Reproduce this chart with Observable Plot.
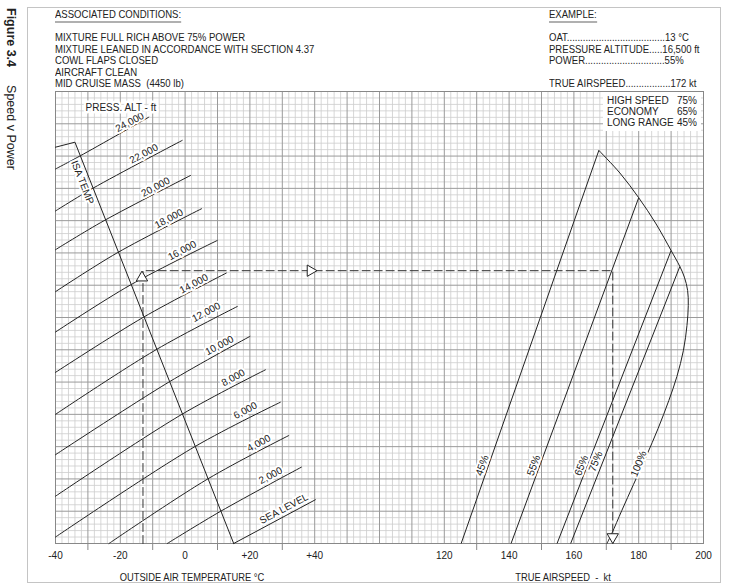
<!DOCTYPE html>
<html><head><meta charset="utf-8">
<script src="https://cdn.jsdelivr.net/npm/d3@7"></script>
<script src="https://cdn.jsdelivr.net/npm/@observablehq/plot@0.6"></script>
<style>
html,body{margin:0;padding:0;background:#fff;}
#wrap{position:relative;width:729px;height:586px;overflow:hidden;font-family:"Liberation Sans",Arial,sans-serif;color:#222;}
#border{position:absolute;left:27px;top:7px;width:692px;height:574px;border:1.5px solid #c4c4c4;}
.hd{position:absolute;font-family:"Liberation Sans",Arial,sans-serif;font-size:11.5px;line-height:12px;white-space:pre;color:#222;transform-origin:0 0;transform:scaleX(0.83);}
.ul{border-bottom:2px solid #b0b0b0;padding-bottom:1px;}
.ax{position:absolute;font-family:"Liberation Sans",Arial,sans-serif;font-size:11px;line-height:12px;white-space:pre;color:#222;transform:translateX(-50%) scaleX(0.85);}
#fig{position:absolute;left:0;top:8px;transform-origin:0 0;transform:translateX(18px) rotate(90deg);white-space:nowrap;font-size:12.5px;line-height:14px;color:#222;}
#legend{position:absolute;left:603px;top:92px;width:90px;padding:3px 4px 3px 4px;background:#fff;font-size:10px;line-height:11px;white-space:nowrap;}
#legend .row{display:flex;justify-content:space-between;}
#chart{position:absolute;left:0;top:0;}
</style></head>
<body><div id="wrap">
<div id="border"></div>
<div id="fig"><b>Figure 3.4</b><span style="margin-left:18px">Speed v Power</span></div>
<div id="chart"></div>
<div id="legend"></div>
</div>
<script>
// ---------- text content ----------
const conditionsTitle = "ASSOCIATED CONDITIONS:";
const conditions = ["MIXTURE FULL RICH ABOVE 75% POWER", "MIXTURE LEANED IN ACCORDANCE WITH SECTION 4.37", "COWL FLAPS CLOSED", "AIRCRAFT CLEAN", "MID CRUISE MASS  (4450 lb)"];
const exampleTitle = "EXAMPLE:";
const exampleRows = ["OAT.....................................13 °C", "PRESSURE ALTITUDE.....16,500 ft", "POWER..............................55%", "", "TRUE AIRSPEED.................172 kt"];
const legendNames = ["HIGH SPEED", "ECONOMY", "LONG RANGE"];
const legendPct = ["75%", "65%", "45%"];

// ---------- axes ----------
const TAS_OFFSET = 40; // grid position = TAS - 40 (shared grid with temperature)
const tempTicks = [-40, -20, 0, 20, 40];
const tempTickLabels = ["-40", "-20", "0", "+20", "+40"];
const tasTicks = [120, 140, 160, 180, 200];
const tasTickLabels = ["120", "140", "160", "180", "200"];
const tempTickMarks = [-30, -10, 10, 30];
const tasTickMarks = [130, 150, 170, 190];
const axisTitles = ["OUTSIDE AIR TEMPERATURE °C", "TRUE AIRSPEED  -  kt"];
const axisTitlePos = [2.3, 116.8];

// ---------- pressure altitude lines (left panel), y = density level in 1000 ft ----------
const altLabels = ["24,000", "22,000", "20,000", "18,000", "16,000", "14,000", "12,000", "10,000", "8,000", "6,000", "4,000", "2,000", "SEA LEVEL"];
const altStartT = [-40, -40, -40, -40, -40, -40, -40, -40, -40, -40, -23.5, -5.5, 15];
const altStartV = [23.2, 20.6, 18.2, 15.6, 13.1, 10.6, 8.0, 5.5, 2.93, 0.4, 0, 0, 0];
const altIsaT = [-32.5, -28.5, -25, -21, -17, -13, -9, -5, -1, 3, 7, 11, 15];
const altIsaV = [24, 22, 20, 18, 16, 14, 12, 10, 8, 6, 4, 2, 0];
const altEndT = [-11.2, -0.9, 1.7, 5.1, 9.9, 12.7, 16.1, 20.0, 24.8, 29.4, 32.0, 35.9, 40.2];
const altEndV = [26.41, 24.97, 22.80, 20.74, 18.77, 16.75, 14.68, 12.83, 10.76, 8.75, 6.69, 4.73, 2.71];
const altLabelT = [-17.1, -12.75, -9.1, -5.0, -0.9, 2.7, 6.5, 10.6, 14.85, 18.6, 22.75, 26.4, 30.5];
const altLabelV = [26.10, 24.14, 22.08, 20.12, 18.15, 16.09, 14.33, 12.27, 10.27, 8.24, 6.21, 4.21, 2.15];

// ISA temperature line
const isaLineT = [-40, -34.0, 15];
const isaLineV = [24.55, 24.86, 0];

// ---------- power lines (right panel) ----------
const powerNames = ["45%", "55%", "65%", "75%"];
const powerTopTAS = [167.7, 180.0, 190.0, 192.7];
const powerTopV = [24.35, 21.42, 18.15, 17.16];
const powerBottomTAS = [125.2, 140.6, 154.8, 159.0];
const maxPowerTAS = [167.7, 174.2, 180.0, 185.2, 190.0, 192.7, 194.1, 195.1, 195.3, 194.9, 193.8, 191.8, 189.3, 186.0, 182.3, 178.4, 174.8, 171.7, 170.2];
const maxPowerV = [24.35, 22.95, 21.42, 19.85, 18.15, 17.16, 16.5, 15.68, 14.75, 13.51, 11.96, 10.35, 8.86, 7.13, 5.39, 3.66, 2.05, 0.62, 0];
const pctLabels = ["45%", "55%", "65%", "75%", "100%"];
const pctLabelTAS = [131.7, 147.6, 162.3, 166.7, 180.0];
const pctLabelV = [4.83, 4.83, 4.83, 5.08, 4.94];
const pctLabelAngle = [-70.7, -69.7, -68.7, -68.4, -68.0];

// ---------- worked example ----------
const exampleOAT = -13;
const exampleLevel = 16.9;
const exampleTAS = 172;
const arrowMidT = 38.7;

// ================= build =================
const wrap = document.getElementById("wrap");
function addText(text, left, top, cls) {
  const d = document.createElement("div");
  d.className = cls || "hd";
  d.style.left = left + "px"; d.style.top = top + "px";
  d.textContent = text;
  wrap.appendChild(d);
  return d;
}
addText(conditionsTitle, 55, 8, "hd ul");
addText(exampleTitle, 549, 8, "hd ul");
conditions.forEach((t, i) => addText(t, 55, 31 + i * 11.6));
exampleRows.forEach((t, i) => { if (t) addText(t, 549, 31 + i * 11.6); });
const lg = document.getElementById("legend");
legendNames.forEach((n, i) => {
  const r = document.createElement("div"); r.className = "row";
  r.innerHTML = `<span>${n}</span><span>${legendPct[i]}</span>`;
  lg.appendChild(r);
});

// data tables
const altPts = [];
altLabels.forEach((lab, i) => {
  const pts = [[altStartT[i], altStartV[i]], [altIsaT[i], altIsaV[i]], [altEndT[i], altEndV[i]]];
  pts.forEach((p, j) => {
    if (j > 0 && p[0] === pts[j - 1][0] && p[1] === pts[j - 1][1]) return;
    altPts.push({id: lab, x: p[0], v: p[1]});
  });
});
const altLabelData = altLabels.map((t, i) => ({t, x: altLabelT[i], v: altLabelV[i]}));
const isaPts = isaLineT.map((x, i) => ({x, v: isaLineV[i]}));
const powerData = powerNames.map((n, i) => ({n, x1: powerTopTAS[i] - TAS_OFFSET, y1: powerTopV[i], x2: powerBottomTAS[i] - TAS_OFFSET, y2: 0}));
const maxPts = maxPowerTAS.map((t, i) => ({x: t - TAS_OFFSET, v: maxPowerV[i]}));
const pctData = pctLabels.map((t, i) => ({t, x: pctLabelTAS[i] - TAS_OFFSET, v: pctLabelV[i], a: pctLabelAngle[i]}));
const examplePath = [
  {x: exampleOAT, v: 0}, {x: exampleOAT, v: exampleLevel},
  {x: exampleTAS - TAS_OFFSET, v: exampleLevel}, {x: exampleTAS - TAS_OFFSET, v: 0}
];
const arrows = [
  {x: exampleOAT, v: exampleLevel, a: 0, dx: -1, dy: 7},
  {x: arrowMidT, v: exampleLevel, a: 90, dx: 0, dy: 0},
  {x: exampleTAS - TAS_OFFSET, v: 0, a: 180, dx: 0, dy: -6.5}
];
const tickLabelData = tempTicks.map((t, i) => ({x: t, t: tempTickLabels[i]}))
  .concat(tasTicks.map((t, i) => ({x: t - TAS_OFFSET, t: tasTickLabels[i]})));
const tickMarkData = tempTickMarks.concat(tasTickMarks.map(t => t - TAS_OFFSET));

const minorX = d3.range(-40, 161, 2);
const minorY = d3.range(0, 71).map(i => i * 0.4);
const lineColor = "#222";
const FONT = "'Liberation Sans', Arial, sans-serif";

const chart = Plot.plot({
  width: 729, height: 586,
  marginTop: 91, marginBottom: 43, marginLeft: 55, marginRight: 26,
  x: {domain: [-40, 160], axis: null},
  y: {domain: [0, 28], axis: null},
  style: {fontFamily: FONT, fontSize: "10px", background: "transparent", color: lineColor},
  marks: [
    Plot.ruleX(minorX.filter(d => d % 10 !== 0), {x: d => d, stroke: "#cdcdcd", strokeWidth: 0.8}),
    Plot.ruleY(minorY.filter((d, i) => i % 5 !== 0), {y: d => d, stroke: "#cdcdcd", strokeWidth: 0.8}),
    Plot.ruleX(minorX.filter(d => d % 10 === 0), {x: d => d, stroke: "#9a9a9a", strokeWidth: 1}),
    Plot.ruleY(minorY.filter((d, i) => i % 5 === 0), {y: d => d, stroke: "#9a9a9a", strokeWidth: 1}),
    Plot.frame({stroke: "#888"}),
    Plot.ruleX(tickMarkData, {x: d => d, y1: 0, y2: 0, insetBottom: -7, stroke: "#888"}),
    Plot.text(tickLabelData, {x: "x", text: "t", frameAnchor: "bottom", dy: 15, fontSize: 10}),
    // left panel
    Plot.line(altPts, {x: "x", y: "v", z: "id", curve: "catmull-rom", stroke: lineColor, strokeWidth: 1}),
    Plot.line(isaPts, {x: "x", y: "v", stroke: lineColor, strokeWidth: 1}),
    Plot.text(altLabelData, {x: "x", y: "v", text: "t", rotate: -28, fontSize: 10, fill: lineColor, stroke: "white", strokeWidth: 4, paintOrder: "stroke"}),
    Plot.text(["ISA TEMP"], {x: -31.7, y: 22.37, text: d => d, rotate: 68.3, fontSize: 10, fill: lineColor, stroke: "white", strokeWidth: 4, paintOrder: "stroke"}),
    Plot.text(["PRESS. ALT - ft"], {frameAnchor: "top-left", text: d => d, dx: 30, dy: 12, textAnchor: "start", fontSize: 10, fill: lineColor, stroke: "white", strokeWidth: 5, paintOrder: "stroke"}),
    // right panel
    Plot.link(powerData, {x1: "x1", y1: "y1", x2: "x2", y2: "y2", stroke: lineColor, strokeWidth: 1}),
    Plot.line(maxPts, {x: "x", y: "v", curve: "catmull-rom", stroke: lineColor, strokeWidth: 1}),
    Plot.text(pctData, {x: "x", y: "v", text: "t", rotate: "a", fontSize: 10.5, fill: lineColor, stroke: "white", strokeWidth: 4, paintOrder: "stroke"}),
    // example
    Plot.line(examplePath, {x: "x", y: "v", stroke: "#333", strokeWidth: 1, strokeDasharray: "8,4"}),
    ...arrows.map(a => Plot.dot([a], {x: "x", y: "v", symbol: "triangle", r: 4.2, rotate: a.a, dx: a.dx, dy: a.dy, fill: "white", stroke: "#222", strokeWidth: 1}))
  ]
});
document.getElementById("chart").appendChild(chart);

// axis titles (condensed HTML text under each panel)
const xs = chart.scale("x");
axisTitles.forEach((t, i) => {
  addText(t, xs.apply(axisTitlePos[i]), 571, "ax");
});
</script>
</body></html>
